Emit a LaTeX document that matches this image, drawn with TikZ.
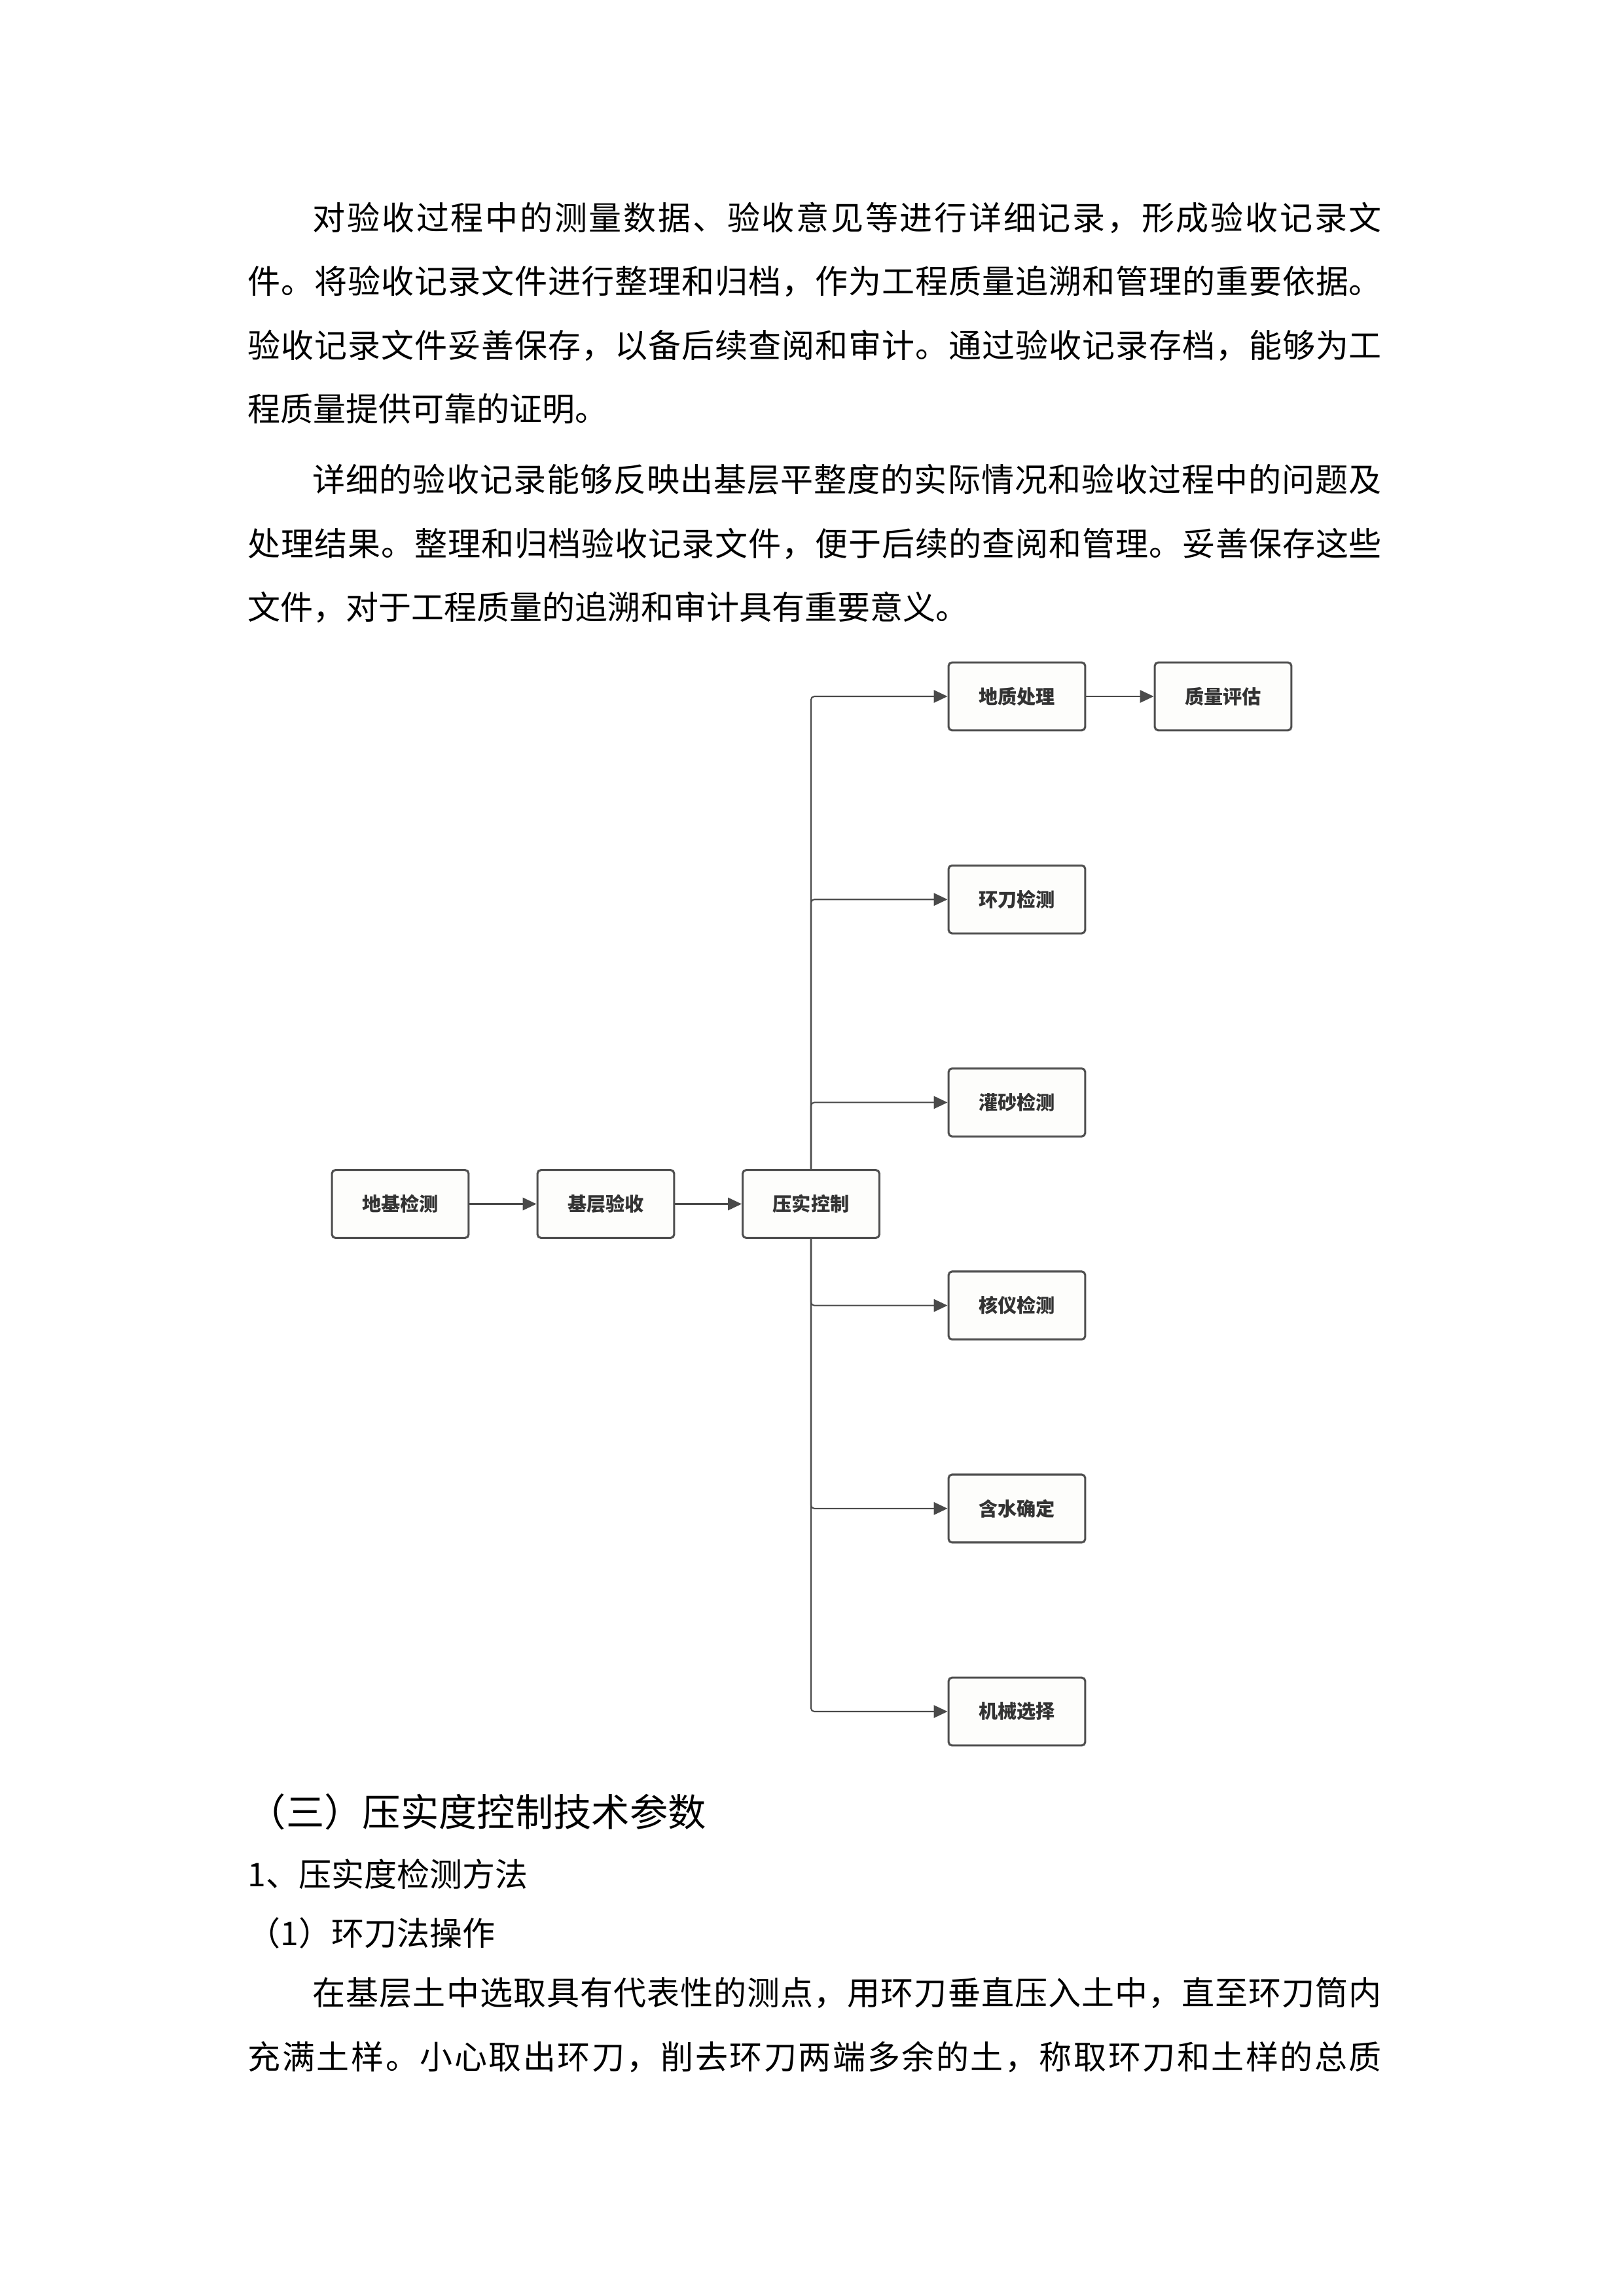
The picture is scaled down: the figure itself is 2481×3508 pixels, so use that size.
\documentclass[tikz,border=0pt]{standalone}
\usepackage{fontspec}
\setmainfont{Noto Sans CJK SC}
\usetikzlibrary{arrows.meta}
\definecolor{boxline}{HTML}{4F4F4F}
\definecolor{boxfill}{HTML}{FDFDFB}
\definecolor{linkc}{HTML}{4A4A4A}
\definecolor{boxtext}{HTML}{333333}
\def\jline#1#2\relax{#1\jlinei#2\relax}
\def\jlinei#1{\ifx\relax#1\else\hfill#1\expandafter\jlinei\fi}
\newcommand\JL[2]{\hbox to #1{\jline#2\relax}}
\tikzset{
  flowbox/.style={draw=boxline, line width=0.75pt, fill=boxfill, rounded corners=1.3pt,
    minimum width=50.1pt, minimum height=24.9pt, inner sep=0pt,
    font=\bfseries\fontsize{7pt}{8pt}\selectfont, text=boxtext},
  link/.style={draw=linkc, line width=0.5pt, -{Triangle[length=5pt,width=4.6pt]}, rounded corners=1.2pt},
  bodyline/.style={anchor=west, inner sep=0pt, font=\fontsize{12pt}{14pt}\selectfont},
  headline/.style={anchor=west, inner sep=0pt, font=\fontsize{14pt}{16pt}\selectfont},
}
\begin{document}
\begin{tikzpicture}[x=0.239935pt, y=-0.239935pt]
\fill[white] (0,0) rectangle (2481,3508);
\useasboundingbox (0,0) rectangle (2481,3508);

% paragraph 1
\node[bodyline] (p1a) at (477,333) {\JL{391.8pt}{对验收过程中的测量数据、验收意见等进行详细记录，形成验收记录文}};
\node[bodyline] (p1b) at (378,430) {\JL{415.6pt}{件。将验收记录文件进行整理和归档，作为工程质量追溯和管理的重要依据。}};
\node[bodyline] (p1c) at (378,528) {\JL{415.6pt}{验收记录文件妥善保存，以备后续查阅和审计。通过验收记录存档，能够为工}};
\node[bodyline] (p1d) at (378,625) {程质量提供可靠的证明。};
% paragraph 2
\node[bodyline] (p2a) at (477,733) {\JL{391.8pt}{详细的验收记录能够反映出基层平整度的实际情况和验收过程中的问题及}};
\node[bodyline] (p2b) at (378,831) {\JL{415.6pt}{处理结果。整理和归档验收记录文件，便于后续的查阅和管理。妥善保存这些}};
\node[bodyline] (p2c) at (378,928) {文件，对于工程质量的追溯和审计具有重要意义。};

% flow chart
\node[flowbox] (djjc) at (611.5,1839.5) {地基检测};
\node[flowbox] (jcys) at (925.5,1839.5) {基层验收};
\node[flowbox] (yskz) at (1239,1839.5) {压实控制};
\node[flowbox] (dzcl) at (1553.5,1064) {地质处理};
\node[flowbox] (zlpg) at (1868.5,1064) {质量评估};
\node[flowbox] (hdjc) at (1553.5,1374.2) {环刀检测};
\node[flowbox] (gsjc) at (1553.5,1684.4) {灌砂检测};
\node[flowbox] (hyjc) at (1553.5,1994.6) {核仪检测};
\node[flowbox] (hsqd) at (1553.5,2304.8) {含水确定};
\node[flowbox] (jxxz) at (1553.5,2615) {机械选择};

\draw[link] (djjc) -- (jcys);
\draw[link] (jcys) -- (yskz);
\draw[link] (dzcl) -- (zlpg);
\draw[link] (yskz.north) |- (dzcl.west);
\draw[link] (yskz.north) |- (hdjc.west);
\draw[link] (yskz.north) |- (gsjc.west);
\draw[link] (yskz.south) |- (hyjc.west);
\draw[link] (yskz.south) |- (hsqd.west);
\draw[link] (yskz.south) |- (jxxz.west);

% section below
\node[headline] (h3) at (378,2768) {（三）压实度控制技术参数};
\node[bodyline] (h31) at (378,2863) {1、压实度检测方法};
\node[bodyline] (h311) at (378,2953) {（1）环刀法操作};
\node[bodyline] (p3a) at (477,3045) {\JL{391.8pt}{在基层土中选取具有代表性的测点，用环刀垂直压入土中，直至环刀筒内}};
\node[bodyline] (p3b) at (378,3143) {\JL{415.6pt}{充满土样。小心取出环刀，削去环刀两端多余的土，称取环刀和土样的总质}};
\end{tikzpicture}
\end{document}
